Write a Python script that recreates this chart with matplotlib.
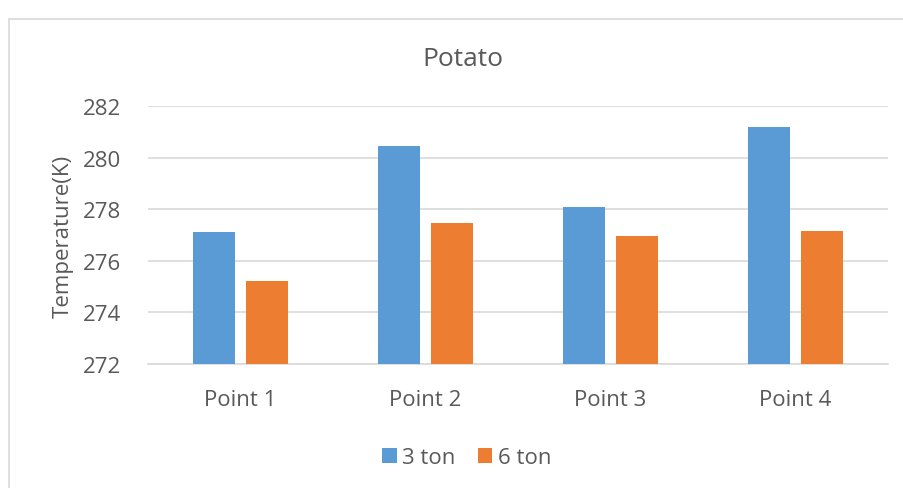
import numpy as np
import matplotlib
matplotlib.use('Agg')
import matplotlib.pyplot as plt
from matplotlib.patches import Rectangle

plt.rcParams['font.family'] = ['Open Sans', 'DejaVu Sans']

categories = ['Point 1', 'Point 2', 'Point 3', 'Point 4']
ton3 = [277.1, 280.45, 278.1, 281.2]
ton6 = [275.2, 277.45, 276.95, 277.15]

text_color = '#595959'
grid_color = '#d9d9d9'

fig = plt.figure(figsize=(9.04, 4.89), dpi=100)
ax = fig.add_axes([0.1637, 0.2536, 0.8186, 0.5276])

# chart outer border
fig.patches.append(Rectangle((9 / 904, -0.05), 1.1, 1 - 20 / 489 + 0.05,
                             transform=fig.transFigure, fill=False,
                             edgecolor=grid_color, linewidth=1.2))

x = np.arange(len(categories))
w = 0.227
ax.bar(x - 0.143, np.array(ton3) - 272, w, bottom=272, color='#5b9bd5', label='3 ton', zorder=3)
ax.bar(x + 0.143, np.array(ton6) - 272, w, bottom=272, color='#ed7d31', label='6 ton', zorder=3)

ax.set_xlim(-0.5, 3.5)
ax.set_ylim(272, 282)
ax.set_yticks(range(272, 283, 2))
ax.set_xticks(x)
ax.set_xticklabels(categories)
ax.grid(axis='y', color=grid_color, linewidth=1.2, zorder=0)
for s in ['top', 'right', 'left']:
    ax.spines[s].set_visible(False)
ax.spines['bottom'].set_color(grid_color)
ax.spines['bottom'].set_linewidth(1.2)
ax.tick_params(axis='both', length=0, labelsize=16, colors=text_color)
ax.tick_params(axis='x', pad=18)
ax.tick_params(axis='y', pad=19)

ax.set_ylabel('Temperature(K)', fontsize=16, color=text_color)
ax.yaxis.set_label_coords(-0.1, 0.5)
fig.text(463 / 904, 1 - 60 / 489, 'Potato', ha='center', va='center', fontsize=19, color=text_color)

fig.legend(loc='center', bbox_to_anchor=(467 / 904, 1 - 459 / 489), ncol=2, frameon=False,
           fontsize=16, labelcolor=text_color, handlelength=0.65, handleheight=0.65,
           handletextpad=0.25, columnspacing=1.0)

fig.savefig('out.png', dpi=100)
